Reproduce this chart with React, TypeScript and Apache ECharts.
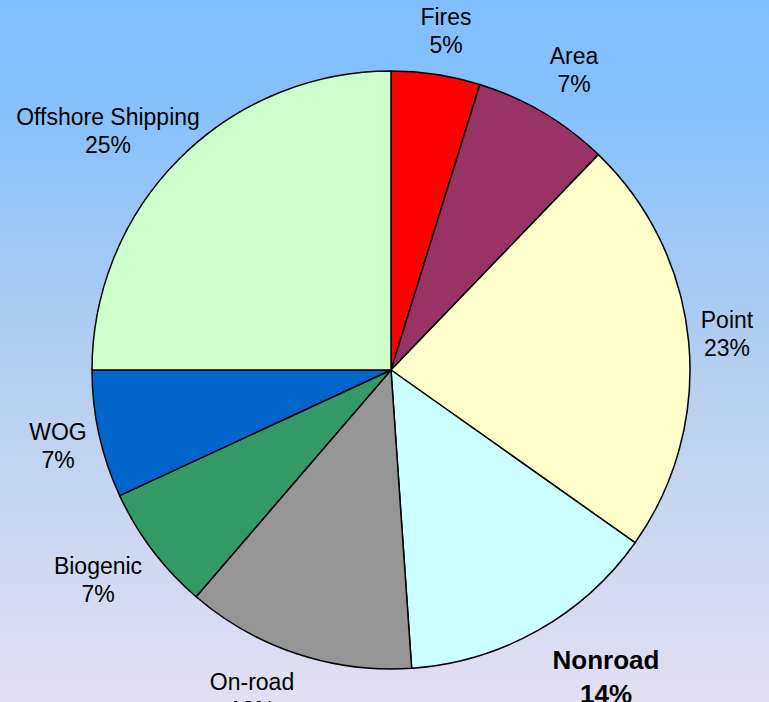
import React, { useEffect, useRef } from "react";
import * as echarts from "echarts";

const categories = ["Fires", "Area", "Point", "Nonroad", "On-road", "Biogenic", "WOG", "Offshore Shipping"];
const values = [4.8, 7.4, 22.6, 14.1, 12.4, 6.8, 6.9, 25.0];
const colors = ["#FF0000", "#993366", "#FFFFCC", "#CCFFFF", "#969696", "#339966", "#0066CC", "#CCFFCC"];

// label centre offsets from pie centre (layout only)
const labelOffsets: Record<string, [number, number]> = {
  Fires: [55, -339],
  Area: [183, -300],
  Point: [336, -36],
  Nonroad: [215, 307],
  "On-road": [-139, 326],
  Biogenic: [-293, 210],
  WOG: [-333, 76],
  "Offshore Shipping": [-283, -239],
};

const CX = 391;
const CY = 370;
const R = 299;

export default function App() {
  const ref = useRef<HTMLDivElement>(null);
  useEffect(() => {
    if (!ref.current) return;
    const chart = echarts.init(ref.current, null, { renderer: "svg" });
    const total = values.reduce((a, b) => a + b, 0);
    const data = categories.map((name, i) => ({
      name,
      value: values[i],
      itemStyle: { color: colors[i] },
      label:
        name === "Nonroad"
          ? { fontWeight: "bold" as const, fontSize: 26, lineHeight: 34 }
          : undefined,
    }));
    chart.setOption({
      animation: false,
      backgroundColor: new echarts.graphic.LinearGradient(0, 0, 0, 1, [
        { offset: 0, color: "#80BFFF" },
        { offset: 0.15, color: "#86C1FD" },
        { offset: 0.55, color: "#B6D0EF" },
        { offset: 1, color: "#E3DFF2" },
      ]),
      series: [
        {
          type: "pie",
          center: [CX, CY],
          radius: [0, R],
          startAngle: 90,
          clockwise: true,
          avoidLabelOverlap: false,
          itemStyle: { borderColor: "#000000", borderWidth: 1.5 },
          emphasis: { disabled: true },
          label: {
            show: true,
            position: "outside",
            color: "#000000",
            fontFamily: "Liberation Sans, Arial, sans-serif",
            fontSize: 23,
            lineHeight: 28,
            align: "center",
            formatter: (p: any) => `${p.name}\n${Math.round((p.value / total) * 100)}%`,
          },
          labelLine: { show: false },
          labelLayout: (params: any) => {
            const name = categories[params.dataIndex];
            const off = labelOffsets[name] || [0, 0];
            return {
              x: CX + off[0],
              y: CY + off[1],
              align: "center",
              verticalAlign: "middle",
            };
          },
          data,
        },
      ],
    });
    return () => chart.dispose();
  }, []);
  return (
    <div
      ref={ref}
      style={{ position: "absolute", left: 0, top: 0, width: 769, height: 702 }}
    />
  );
}
